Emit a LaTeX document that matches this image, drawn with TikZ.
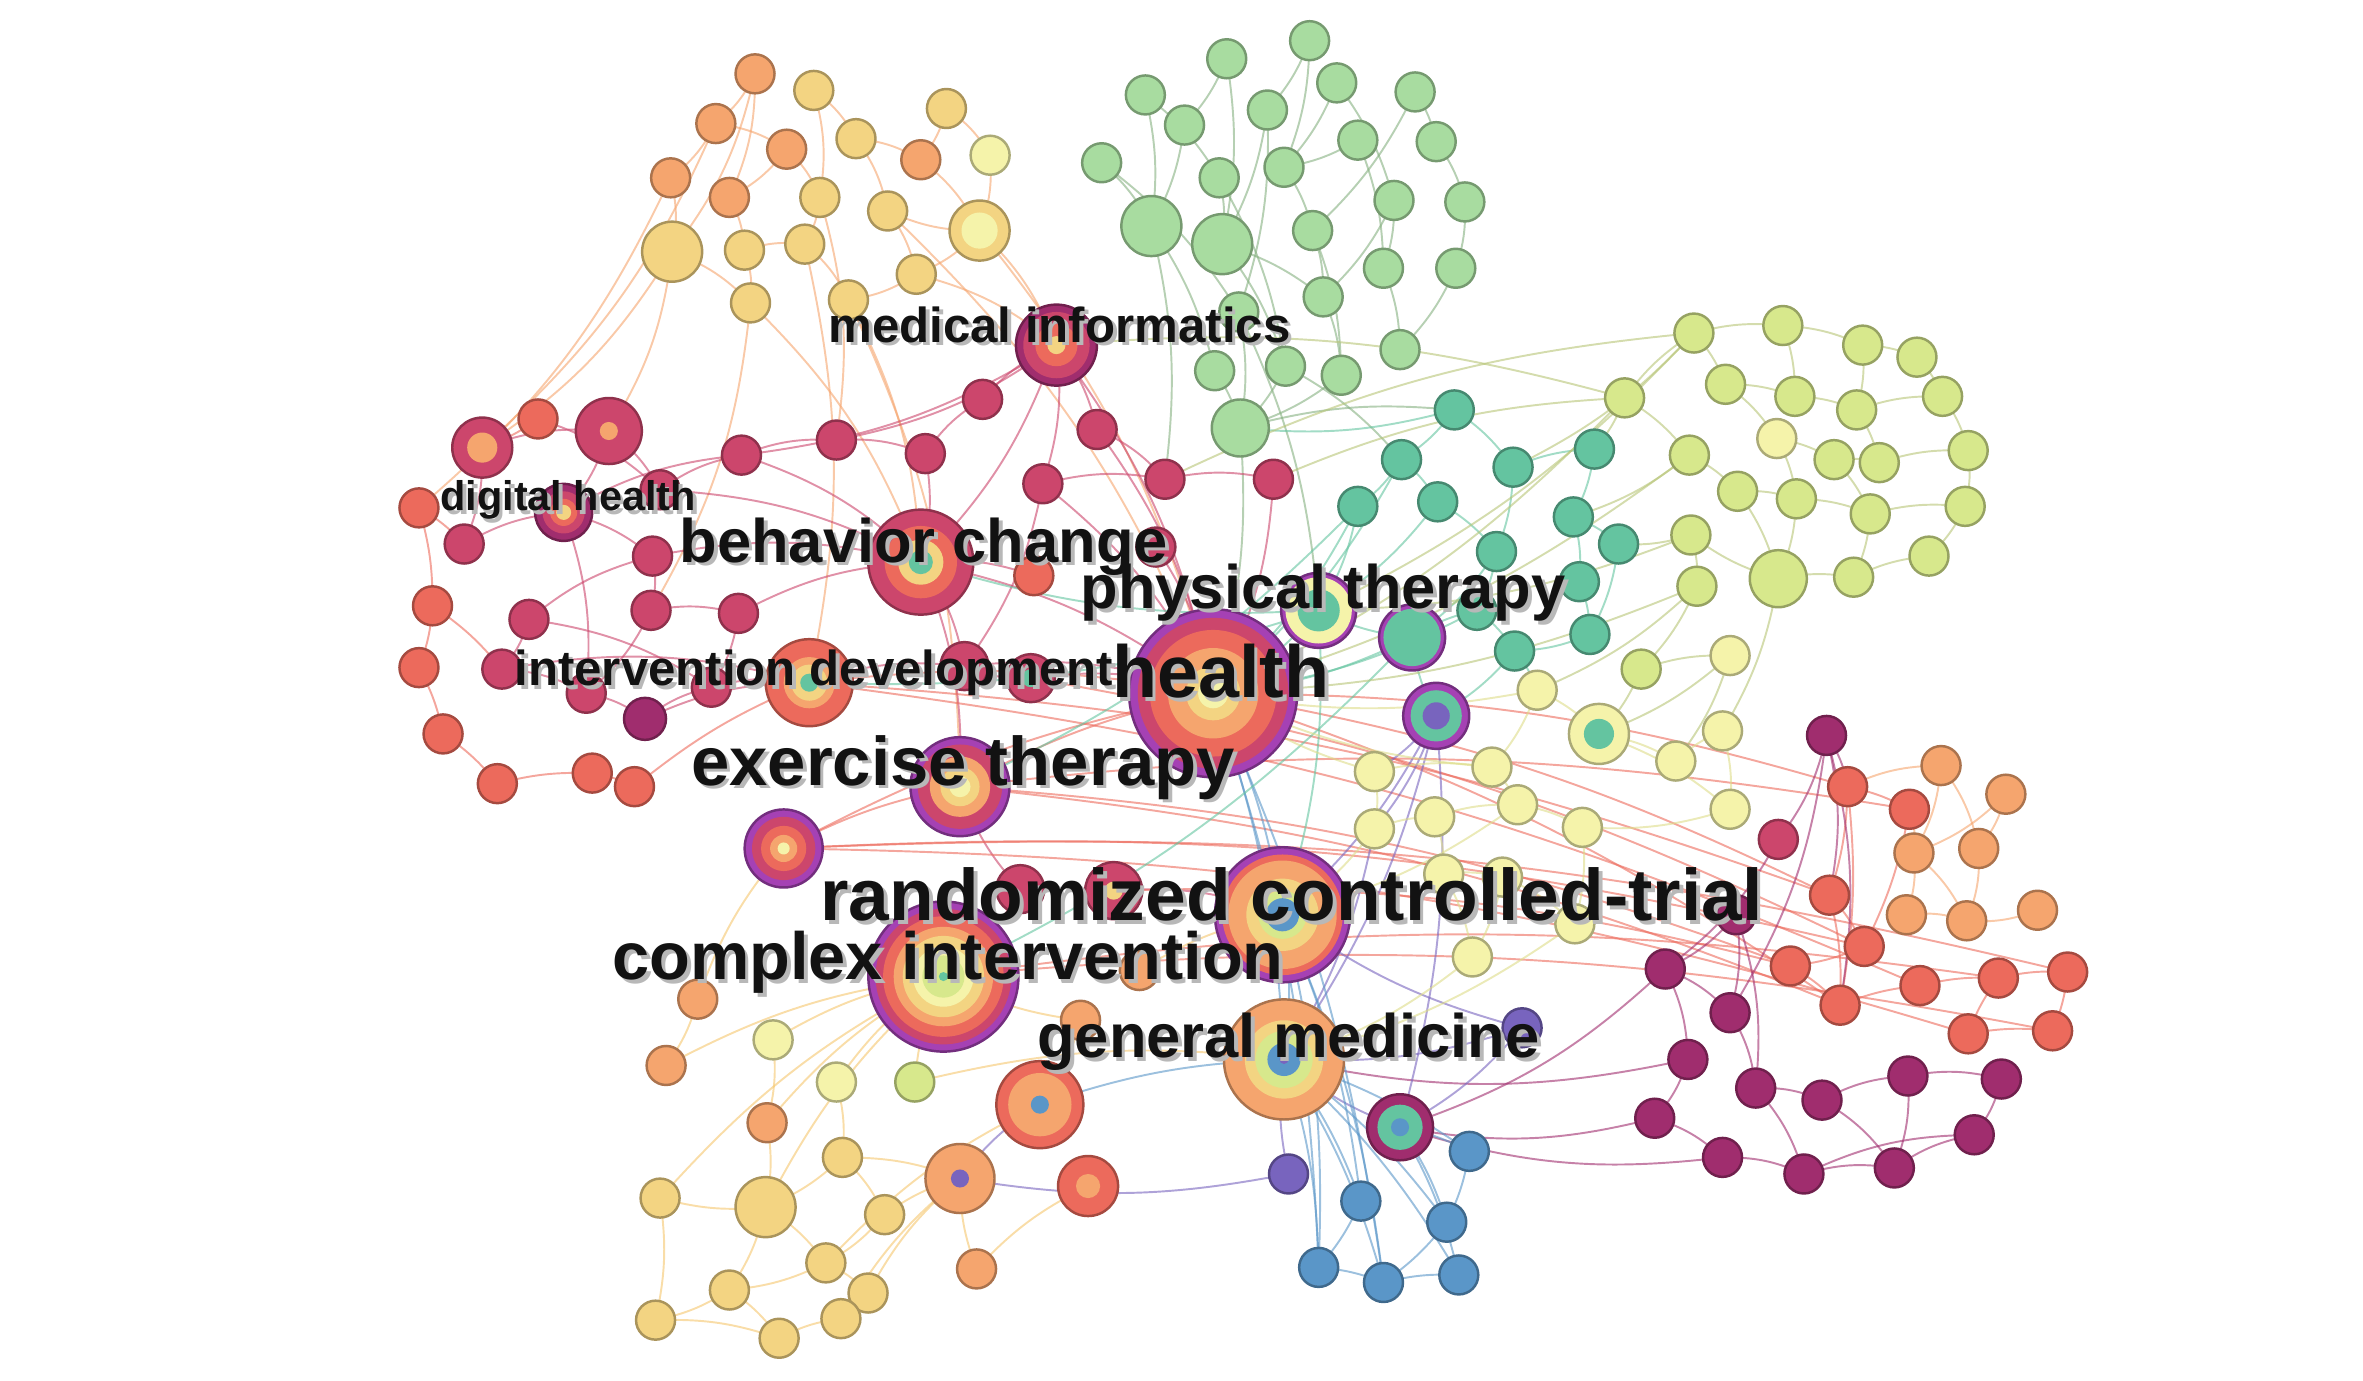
\documentclass[tikz,border=0pt]{standalone}
\usepackage{fontspec}
\setmainfont{Liberation Sans}
\usetikzlibrary{positioning}

\definecolor{crim}{RGB}{204,70,108}
\definecolor{dmag}{RGB}{160,45,110}
\definecolor{coral}{RGB}{236,106,92}
\definecolor{orng}{RGB}{245,165,110}
\definecolor{gold}{RGB}{243,212,130}
\definecolor{pyel}{RGB}{245,243,170}
\definecolor{lime}{RGB}{215,232,140}
\definecolor{lgrn}{RGB}{168,220,160}
\definecolor{teal}{RGB}{100,196,160}
\definecolor{blue}{RGB}{90,150,200}
\definecolor{purp}{RGB}{120,100,190}
\definecolor{vio}{RGB}{165,65,180}

\pgfdeclarelayer{bg}
\pgfsetlayers{bg,main}

\tikzset{
  kw/.style={circle, draw=#1!70!black, fill=#1, line width=0.7pt,
    inner sep=0pt, minimum size=11.1pt},
  sz/.style={minimum size=#1*0.4272pt},
  lk/.style={draw=#1, line width=0.55pt, draw opacity=0.6},
  kwtxt/.style={font=\fontsize{#1}{#1}\selectfont\bfseries, inner sep=0pt, anchor=base},
}
\newcommand\kwlab[5]{%
  \node[kwtxt=#4, text=black!28] at (#2+2.5,#3+2.5) {#5};
  \node[kwtxt=#4, text=black!93] (#1) at (#2,#3) {#5};}

\begin{document}
\begin{tikzpicture}[x=0.01507cm, y=-0.01507cm]
\useasboundingbox (0,0) rectangle (1568,916);

% ---- keyword nodes
% top left warm cluster
\foreach \n/\x/\y in {y1/501/49, y3/475/82, y4/522/99, y7/611/106, y9/445/118, y10/484/131}
  \node[kw=orng] (\n) at (\x,\y) {};
\foreach \n/\x/\y in {y2/540/60, y5/568/92, y6/628/72, y11/544/131, y12/589/140,
    y15/494/166, y16/534/162, y17/608/182, y18/498/201, y19/563/199}
  \node[kw=gold] (\n) at (\x,\y) {};
\node[kw=pyel] (y8) at (657,103) {};
\node[kw=gold, sz=40] (y13) at (650,153) {};
\node[kw=gold, sz=40] (y14) at (446,167) {};
\fill[pyel] (y13.center) circle[radius=12];

% green cluster
\foreach \n/\x/\y in {g1/869/27, g2/814/39, g3/760/63, g4/841/73, g5/887/55, g6/939/61,
    g7/786/83, g8/901/93, g9/953/94, g10/731/108, g11/809/118, g12/852/111, g13/925/133,
    g14/972/134, g17/871/153, g18/918/178, g19/966/178, g20/878/197, g21/822/207,
    g22/929/232, g23/806/246, g24/853/243, g25/890/249}
  \node[kw=lgrn] (\n) at (\x,\y) {};
\node[kw=lgrn, sz=40] (g15) at (764,150) {};
\node[kw=lgrn, sz=40] (g16) at (811,162) {};
\node[kw=lgrn, sz=38] (g26) at (823,284) {};

% lime cluster
\foreach \n/\x/\y in {l1/1124/221, l2/1183/216, l3/1236/229, l4/1272/237, l5/1078/264,
    l6/1145/255, l7/1191/263, l8/1232/272, l9/1289/263, l11/1217/305, l12/1247/307,
    l13/1306/299, l14/1121/302, l15/1153/326, l16/1192/331, l17/1241/341, l18/1304/336,
    l19/1122/355, l21/1230/383, l22/1280/369, l23/1126/389, l24/1089/444}
  \node[kw=lime] (\n) at (\x,\y) {};
\node[kw=pyel] (l10) at (1179,291) {};
\node[kw=pyel] (l25) at (1148,435) {};
\node[kw=lime, sz=38] (l20) at (1180,384) {};

% teal cluster
\foreach \n/\x/\y in {t1/965/272, t2/930/305, t3/1004/310, t4/1058/298, t5/901/336,
    t6/954/333, t7/1044/343, t8/993/366, t9/1074/361, t10/1048/386, t11/980/405,
    t12/1055/421, t13/1005/432}
  \node[kw=teal] (\n) at (\x,\y) {};
\node[kw=vio, sz=50] (phys) at (875,405) {};
\fill[pyel] (phys.center) circle[radius=22];
\fill[teal] (phys.center) circle[radius=14];
\node[kw=vio, sz=44] (t14) at (937,423) {};
\fill[teal] (t14.center) circle[radius=19];
\node[kw=vio, sz=44] (t15) at (953,475) {};
\fill[teal] (t15.center) circle[radius=17];
\fill[purp] (t15.center) circle[radius=9];

% pale yellow cluster
\foreach \n/\x/\y in {p1/1020/458, p3/1112/505, p4/1143/485, p5/1148/537, p6/912/512,
    p7/990/509, p8/912/550, p9/952/542, p10/1007/534, p11/1050/549, p12/958/580,
    p13/997/582, p14/1045/613, p15/977/635}
  \node[kw=pyel] (\n) at (\x,\y) {};
\node[kw=pyel, sz=40] (p2) at (1061,487) {};
\fill[teal] (p2.center) circle[radius=10];

% crimson / coral left cluster
\foreach \n/\x/\y in {r5/308/361, r6/438/325, r7/492/302, r8/555/292, r9/614/301,
    r10/652/265, r11/728/285, r12/692/321, r13/773/318, r14/845/318, r15/433/369,
    r16/432/405, r17/490/407, r18/351/411, r21/333/444, r22/389/460, r24/472/456,
    r32/767/363}
  \node[kw=crim] (\n) at (\x,\y) {};
\foreach \n/\x/\y in {r2/357/278, r4/278/337, r19/287/402, r20/278/443, r25/294/487,
    r26/330/520, r27/393/513, r28/421/522, r31/686/382}
  \node[kw=coral] (\n) at (\x,\y) {};
\node[kw=dmag, sz=28] (r23) at (428,477) {};
\node[kw=crim, sz=40] (r1) at (320,297) {};
\fill[orng] (r1.center) circle[radius=10];
\node[kw=crim, sz=44] (r3) at (404,286) {};
\fill[orng] (r3.center) circle[radius=6];
\node[kw=crim, sz=32] (r29) at (640,442) {};
\node[kw=crim, sz=32] (r30) at (684,450) {};
\fill[teal] (r30.center) circle[radius=6];
\node[kw=crim, sz=32] (r33) at (677,590) {};
\node[kw=crim, sz=38] (r34) at (739,591) {};
\fill[gold] (r34.center) circle[radius=6];
\node[kw=dmag, sz=38] (dighlth) at (374,340) {};
\foreach \r/\c in {14/crim, 9/coral, 5/gold} \fill[\c] (dighlth.center) circle[radius=\r];
\node[kw=dmag, sz=54] (medinf) at (701,229) {};
\foreach \r/\c in {22/crim, 14/coral, 6/gold} \fill[\c] (medinf.center) circle[radius=\r];
\node[kw=crim, sz=70] (behav) at (611,373) {};
\foreach \r/\c in {24/coral, 15/gold, 8/teal} \fill[\c] (behav.center) circle[radius=\r];
\node[kw=coral, sz=58] (intdev) at (537,453) {};
\foreach \r/\c in {17/orng, 12/gold, 6/teal} \fill[\c] (intdev.center) circle[radius=\r];

% hubs
\node[kw=vio, sz=112] (health) at (805,460) {};
\foreach \r/\c in {50/crim, 42/coral, 30/orng, 18/gold, 10/pyel}
  \fill[\c] (health.center) circle[radius=\r];
\node[kw=vio, sz=66] (exther) at (637,522) {};
\foreach \r/\c in {28/crim, 20/orng, 13/gold, 7/pyel}
  \fill[\c] (exther.center) circle[radius=\r];
\node[kw=vio, sz=52] (n520) at (520,563) {};
\foreach \r/\c in {21/crim, 15/coral, 9/orng, 4/pyel}
  \fill[\c] (n520.center) circle[radius=\r];
\node[kw=vio, sz=90] (rct) at (851,607) {};
\foreach \r/\c in {40/coral, 36/orng, 24/gold, 16/lime, 11/blue}
  \fill[\c] (rct.center) circle[radius=\r];
\node[kw=vio, sz=100] (cplx) at (626,648) {};
\foreach \r/\c in {45/crim, 40/coral, 33/orng, 27/gold, 20/pyel, 14/lime, 3/teal}
  \fill[\c] (cplx.center) circle[radius=\r];
\node[kw=orng, sz=80] (genmed) at (852,703) {};
\foreach \r/\c in {26/gold, 19/lime, 11/blue, 3/purp}
  \fill[\c] (genmed.center) circle[radius=\r];
\node[kw=coral, sz=58] (n690) at (690,733) {};
\foreach \r/\c in {21/orng, 6/blue} \fill[\c] (n690.center) circle[radius=\r];
\node[kw=orng, sz=46] (n637) at (637,782) {};
\fill[purp] (n637.center) circle[radius=6];
\node[kw=coral, sz=40] (n722) at (722,787) {};
\fill[orng] (n722.center) circle[radius=8];
\node[kw=dmag, sz=44] (n929) at (929,748) {};
\foreach \r/\c in {15/teal, 6/blue} \fill[\c] (n929.center) circle[radius=\r];

% bottom left
\foreach \n/\x/\y in {b1/463/663, b2/442/707, b6/509/745, b17/648/842, b18/756/644, b19/717/677}
  \node[kw=orng] (\n) at (\x,\y) {};
\foreach \n/\x/\y in {b7/559/768, b8/587/806, b10/438/795, b11/548/838, b12/576/858,
    b13/484/856, b14/435/876, b15/517/888, b16/558/875}
  \node[kw=gold] (\n) at (\x,\y) {};
\node[kw=pyel] (b3) at (513,690) {};
\node[kw=pyel] (b4) at (555,718) {};
\node[kw=lime] (b5) at (607,718) {};
\node[kw=gold, sz=40] (b9) at (508,801) {};

% blue
\foreach \n/\x/\y in {u1/975/764, u2/903/797, u3/960/811, u4/875/841, u5/918/851, u6/968/846}
  \node[kw=blue] (\n) at (\x,\y) {};
\node[kw=purp] (u7) at (855,779) {};
\node[kw=purp] (u8) at (1010,682) {};

% right clusters
\foreach \n/\x/\y in {m1/1212/488, m3/1105/643, m4/1148/672, m5/1120/703, m6/1165/722,
    m7/1098/742, m8/1143/768, m9/1197/779, m10/1209/730, m11/1266/714, m12/1328/716,
    m13/1257/775, m14/1310/753, m15/1152/607}
  \node[kw=dmag] (\n) at (\x,\y) {};
\node[kw=crim] (m2) at (1180,557) {};
\foreach \n/\x/\y in {c1/1226/522, c2/1267/537, c3/1214/594, c4/1237/628, c5/1188/641,
    c6/1221/667, c7/1274/654, c8/1326/649, c9/1372/645, c10/1306/686, c11/1362/684}
  \node[kw=coral] (\n) at (\x,\y) {};
\foreach \n/\x/\y in {a1/1288/508, a2/1331/527, a3/1270/566, a4/1313/563, a5/1265/607,
    a6/1305/611, a7/1352/604}
  \node[kw=orng] (\n) at (\x,\y) {};

% ---- links
\begin{pgfonlayer}{bg}
\foreach \a/\b in {y1/y3, y1/y10, y1/y14, y3/y9, y3/y4, y2/y5, y2/y11, y4/y11, y4/y10,
    y5/y12, y5/y7, y6/y7, y6/y8, y7/y13, y8/y13, y9/y14, y10/y15, y11/y16, y12/y17,
    y13/y17, y13/y12, y14/y18, y15/y18, y16/y19, y17/y19, y15/y16, y14/r3, y14/r1,
    y18/behav, y19/behav, y13/medinf, y17/medinf, y9/r4, y11/r8, y16/intdev,
    y19/exther, y18/r16, y13/health, y12/health, y3/r1}
  \draw[lk=orng] (\a.center) to[bend left=12] (\b.center);
\foreach \a/\b in {g1/g4, g1/g12, g2/g7, g2/g16, g3/g15, g3/g11, g4/g16, g5/g12, g5/g13,
    g6/g9, g6/g17, g7/g15, g8/g18, g8/g12, g9/g14, g10/g15, g10/g21, g11/g16, g12/g17,
    g13/g18, g14/g19, g15/g23, g16/g24, g17/g20, g18/g22, g19/g22, g20/g25, g21/g26,
    g23/g26, g24/g26, g25/g26, g16/g20, g11/g24, g4/g21, g13/g20, g17/g25, g26/t1,
    g26/health, g21/phys, g24/t2, g15/r13}
  \draw[lk=lgrn!80!black] (\a.center) to[bend left=10] (\b.center);
\foreach \a/\b in {r1/r3, r1/r5, r2/r6, r3/r6, r3/dighlth, r5/dighlth, dighlth/r15,
    dighlth/r22, r6/r7, r7/r8, r8/r9, r9/r10, r10/medinf, medinf/r11, medinf/r12,
    medinf/r8, medinf/r7, medinf/behav, medinf/health, r9/behav, r11/r13, r12/r13,
    r13/r14, r14/health, r15/r16, r16/r17, r16/r22, r17/behav, r17/r24, r18/r21,
    r18/r15, r21/r22, r22/r23, r23/r24, r24/intdev, r23/intdev, behav/r29, behav/r31,
    behav/health, behav/exther, r29/health, r30/health, r30/r29, r6/behav, r7/behav,
    r12/r29, r15/behav, r18/r24, r21/intdev, intdev/r29, r12/health, r33/exther,
    r34/rct, r33/cplx, r11/health, r32/health, dighlth/r7}
  \draw[lk=crim] (\a.center) to[bend left=12] (\b.center);
\foreach \a/\b in {r4/r19, r19/r20, r20/r25, r25/r26, r26/r27, r27/r28, r28/intdev,
    r2/r1, r19/r21, intdev/health, n520/exther, n520/health, exther/health,
    intdev/c3, exther/c5, n520/c4, health/c1, exther/c6, n520/c10, health/c3,
    cplx/c8, intdev/c7, r34/c5, exther/c2, health/c6, cplx/c11, n520/c9, r30/c4,
    c1/c3, c1/c2, c3/c4, c4/c5, c5/c6, c6/c7, c7/c8, c8/c9, c9/c11, c10/c11, c10/c8,
    c1/c6, c3/c6, c2/c4, r4/r5}
  \draw[lk=coral] (\a.center) to[bend left=8] (\b.center);
\foreach \a/\b in {a1/a3, a1/a4, a2/a4, a3/a5, a4/a6, a5/a6, a3/a6, a7/a6, a2/a3,
    c1/a1, c2/a3}
  \draw[lk=orng] (\a.center) to[bend left=12] (\b.center);
\foreach \a/\b in {m1/c1, m1/c3, m1/m2, m1/c6, m2/m3, m3/m5, m3/m4, m4/m6, m5/m7,
    m7/m8, m8/m9, m6/m10, m10/m11, m11/m12, m12/m14, m13/m14, m9/m13, m10/m13,
    m15/m3, m15/m4, m3/n929, m7/n929, m5/genmed, m8/n929, m1/m4, m6/m9, m9/m14,
    m11/m13, m15/m6}
  \draw[lk=dmag] (\a.center) to[bend left=12] (\b.center);
\foreach \a/\b in {t15/p8, t15/p6, t15/genmed, t15/rct, u8/genmed, u8/rct, u7/genmed,
    u7/n637, n637/n690, n929/genmed, u8/n929, t15/n929, p8/genmed}
  \draw[lk=purp] (\a.center) to[bend left=10] (\b.center);
\foreach \a/\b in {genmed/u1, genmed/u2, genmed/u3, genmed/u4, genmed/u5, genmed/u6,
    rct/u2, rct/u5, rct/u4, n929/u1, n929/u3, n929/u6, u2/u4, u3/u5, u1/u3,
    n690/genmed, health/u4, health/u5, rct/genmed, health/genmed, health/rct,
    u4/u5, u5/u6}
  \draw[lk=blue] (\a.center) to[bend left=8] (\b.center);
\foreach \a/\b in {t1/t2, t1/t3, t2/t5, t2/t6, t3/t4, t3/t8, t4/t7, t5/phys, t6/t8,
    t7/t9, t7/t10, t8/t11, t9/t12, t10/t12, t11/t13, t12/t13, t14/phys, t14/t11,
    t13/t15, t15/t14, phys/health, t14/health, t1/g26, t5/health, t6/phys,
    t11/health, t13/p1, phys/behav, phys/intdev, t2/health, t5/exther, t14/cplx,
    phys/rct, t8/t14}
  \draw[lk=teal] (\a.center) to[bend left=10] (\b.center);
\foreach \a/\b in {l1/l2, l1/l6, l2/l3, l3/l4, l4/l9, l5/l1, l5/l14, l6/l7, l7/l8,
    l8/l9, l9/l13, l10/l11, l11/l12, l12/l13, l13/l18, l14/l15, l15/l16, l16/l17,
    l17/l18, l18/l22, l19/l23, l20/l21, l21/l22, l23/l24, l24/l25, l20/l19, l15/l20,
    l6/l10, l8/l12, l16/l20, l17/l21, l10/l16, l11/l17, l1/t3, l5/t4, l14/t7, l19/t9,
    l23/p1, l24/p2, l20/p4, l5/health, l14/health, l19/phys, l23/health, l1/phys,
    l25/p3, l25/p2, l3/l8, l2/l7, medinf/l5, r14/l5, r13/l1}
  \draw[lk=lime!85!black] (\a.center) to[bend left=10] (\b.center);
\foreach \a/\b in {p1/p2, p2/p3, p3/p4, p4/p5, p2/p5, p1/p7, p7/p10, p6/p7, p6/p8,
    p8/p9, p9/p10, p10/p11, p9/p12, p12/p13, p13/p14, p12/p15, p15/genmed,
    p14/genmed, p8/rct, p6/health, p7/health, p11/p14, p13/p15, p5/p11, p1/health,
    p10/rct}
  \draw[lk=pyel!80!olive] (\a.center) to[bend left=10] (\b.center);
\foreach \a/\b in {b7/b8, b7/b9, b9/b10, b9/b11, b8/b11, b11/b12, b11/b13, b12/b16,
    b13/b14, b13/b15, b15/b16, b9/b13, b6/b9, b3/b6, b4/b7, b7/n637, b8/n637,
    b12/n637, b16/n637, b11/n690, b10/b14, b1/b2, b1/n520, b2/cplx, b3/cplx,
    b4/cplx, b5/cplx, b6/cplx, b17/n637, b17/n722, b19/cplx, b18/rct, b19/n690,
    b5/genmed, b9/cplx, b10/cplx, b14/b15}
  \draw[lk=gold!85!orange] (\a.center) to[bend left=10] (\b.center);
\end{pgfonlayer}

% ---- labels
\kwlab{lmedinf}{703}{227}{14pt}{medical informatics}
\kwlab{ldighlth}{377}{339}{11.8pt}{digital health}
\kwlab{lbehav}{613}{373}{17.5pt}{behavior change}
\kwlab{lphys}{878}{404}{17.5pt}{physical therapy}
\kwlab{lintdev}{540}{455}{14pt}{intervention development}
\kwlab{lhealth}{810}{463}{21pt}{health}
\kwlab{lexther}{639}{521}{19.6pt}{exercise therapy}
\kwlab{lrct}{857}{611}{20.8pt}{randomized controlled-trial}
\kwlab{lcplx}{629}{650}{19pt}{complex intervention}
\kwlab{lgenmed}{855}{702}{17.5pt}{general medicine}
\end{tikzpicture}
\end{document}
